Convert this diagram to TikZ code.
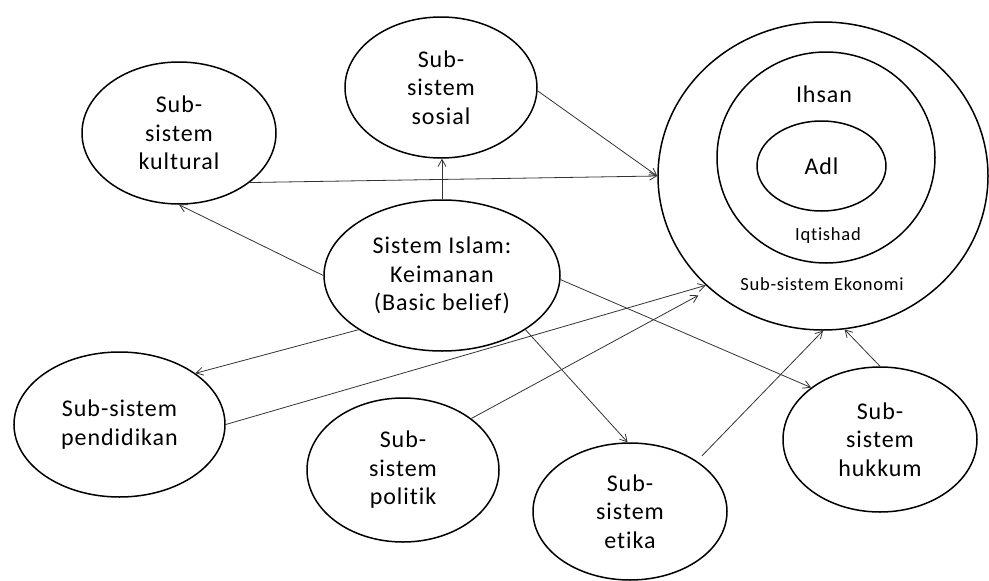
\documentclass[tikz,border=0pt]{standalone}
\usepackage{fontspec}
\setmainfont{Carlito}[LetterSpace=4, Ligatures={NoCommon}]
\usetikzlibrary{shapes.geometric,arrows.meta}

\begin{document}
\begin{tikzpicture}[x=1pt,y=-1pt,
  bubble/.style={draw=black, line width=1.5pt, ellipse, inner sep=0pt,
    align=center, font=\fontsize{24}{28.5}\selectfont},
  ring/.style={draw=black, line width=1.5pt, ellipse, inner sep=0pt,
    font=\fontsize{24}{28.5}\selectfont},
  label/.style={inner sep=0pt, anchor=base},
  biglabel/.style={label, font=\fontsize{24}{28.5}\selectfont},
  smalllabel/.style={label, font=\fontsize{18.5}{22}\selectfont},
  link/.style={draw=black!80, line width=0.8pt,
    -{Straight Barb[length=7pt,width=8pt]}}
]
\useasboundingbox (0,0) rectangle (989,581);

% central belief system
\node[bubble, minimum width=236pt, minimum height=151pt] (islam) at (442,275.5)
  {Sistem Islam:\\Keimanan\\(Basic belief)};

% surrounding sub-systems
\node[bubble, minimum width=194pt, minimum height=142pt] (kult) at (179,133)
  {Sub-\\sistem\\kultural};
\node[bubble, minimum width=192pt, minimum height=141pt] (sos) at (441,87.5)
  {Sub-\\sistem\\sosial};
\node[bubble, minimum width=211pt, minimum height=145pt] (pend) at (119.5,424.5)
  {Sub-sistem\\pendidikan};
\node[bubble, minimum width=192pt, minimum height=144pt] (pol) at (403,470)
  {Sub-\\sistem\\politik};
\node[bubble, minimum width=194pt, minimum height=137pt] (etika) at (630,511.5)
  {Sub-\\sistem\\etika};
\node[bubble, minimum width=194pt, minimum height=145pt] (huk) at (880,439.5)
  {Sub-\\sistem\\hukkum};

% economic sub-system: three nested rings
\node[ring, minimum width=330pt, minimum height=308pt] (eko) at (823,176) {};
\node[ring, minimum width=218pt, minimum height=211pt] (iqt) at (826,157.5) {};
\node[ring, minimum width=129pt, minimum height=90pt] (adl) at (821.5,166) {Adl};
\node[biglabel] (ihsan) at (824,102) {Ihsan};
\node[smalllabel] (iqtlabel) at (828,240) {Iqtishad};
\node[smalllabel] (ekolabel) at (822,290) {Sub-sistem Ekonomi};

% connectors
\draw[link] (islam.north) -- (islam.north |- sos.south);
\draw[link] (islam.180) -- (kult.south);
\draw[link] (islam.-147) -- (pend.34);
\draw[link] (islam.-2) -- (huk.143);
\draw[link] (islam.-33) -- (etika.92);
\draw[link] (kult.-35) -- (eko.180);
\draw[link] (sos.-2) -- (eko.180);
\draw[link] (pend.0) -- (eko.223);
\draw[link, shorten >=13pt] (pol.37) -- (eko.225);
\draw[link, shorten <=7pt] (etika.37) -- (eko.-90);
\draw[link] (huk.north) -- (eko.-82);
\end{tikzpicture}
\end{document}
